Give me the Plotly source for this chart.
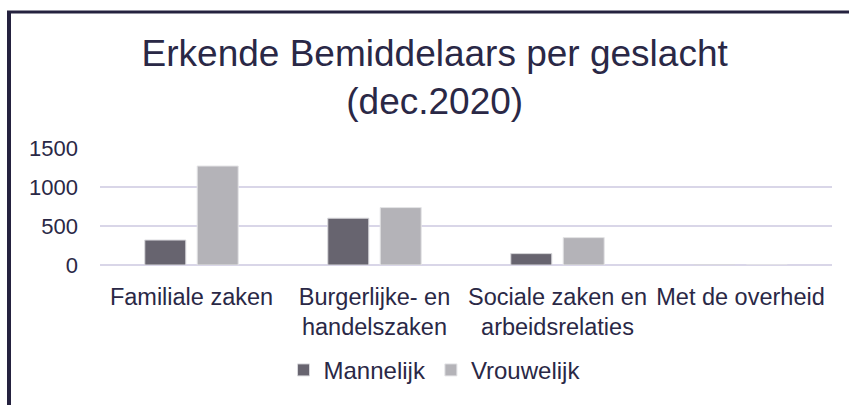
import plotly.graph_objects as go

categories = ["Familiale zaken", "Burgerlijke- en<br>handelszaken", "Sociale zaken en<br>arbeidsrelaties", "Met de overheid"]
mannelijk = [320, 600, 146, 0]
vrouwelijk = [1269, 736, 351, 0]
series_names = ["Mannelijk", "Vrouwelijk"]
y_ticks = [0, 500, 1000, 1500]
title_text = "Erkende Bemiddelaars per geslacht<br>(dec.2020)"

W, H = 849, 405
ML, MR, MT, MB = 100, 17, 148, 140
PW = W - ML - MR
PH = H - MT - MB

TXT = "#2a2846"
FONT = "Liberation Sans, Arial, sans-serif"

fig = go.Figure()
fig.add_trace(go.Bar(x=categories, y=mannelijk, name=series_names[0],
                     marker=dict(color="#67646f", line=dict(color="#d8d8dc", width=1))))
fig.add_trace(go.Bar(x=categories, y=vrouwelijk, name=series_names[1],
                     marker=dict(color="#b4b3b8", line=dict(color="#e4e4e6", width=1))))

def px_x(p):
    return (p - ML) / PW

def px_y(p):
    return (H - MB - p) / PH

border = "#25223f"
fig.add_shape(type="rect", xref="paper", yref="paper",
              x0=px_x(7), x1=px_x(11), y0=px_y(405), y1=px_y(11),
              fillcolor=border, line=dict(width=0), layer="above")
fig.add_shape(type="rect", xref="paper", yref="paper",
              x0=px_x(7), x1=px_x(849), y0=px_y(13.5), y1=px_y(10.5),
              fillcolor=border, line=dict(width=0), layer="above")

fig.update_layout(
    width=W, height=H,
    margin=dict(l=ML, r=MR, t=MT, b=MB, pad=0),
    paper_bgcolor="white", plot_bgcolor="white",
    font=dict(family=FONT, color=TXT, size=22),
    title=dict(text=title_text, x=0.512, xanchor="center", xref="container",
               y=0.838, yanchor="top", yref="container",
               font=dict(size=37, color=TXT, family=FONT)),
    barmode="group", bargap=0.427, bargroupgap=0.218,
    showlegend=True,
    legend=dict(orientation="h", x=0.457, xanchor="center", y=-0.9, yanchor="middle",
                font=dict(size=24, color=TXT), itemwidth=30, traceorder="normal"),
    xaxis=dict(showgrid=False, showline=False, ticks="", automargin=False,
               tickfont=dict(size=23.5, color=TXT), ticklabelstandoff=15),
    yaxis=dict(range=[0, 1500], tickvals=y_ticks, showgrid=True, gridcolor="#d9d6e8", gridwidth=2,
               zeroline=True, zerolinecolor="#d9d6e8", zerolinewidth=2, showline=False, automargin=False,
               ticks="", tickfont=dict(size=22, color=TXT), ticklabelstandoff=21),
)

fig.write_html("out.html", config={"displayModeBar": False},
               post_script="document.body.style.margin='0';")
